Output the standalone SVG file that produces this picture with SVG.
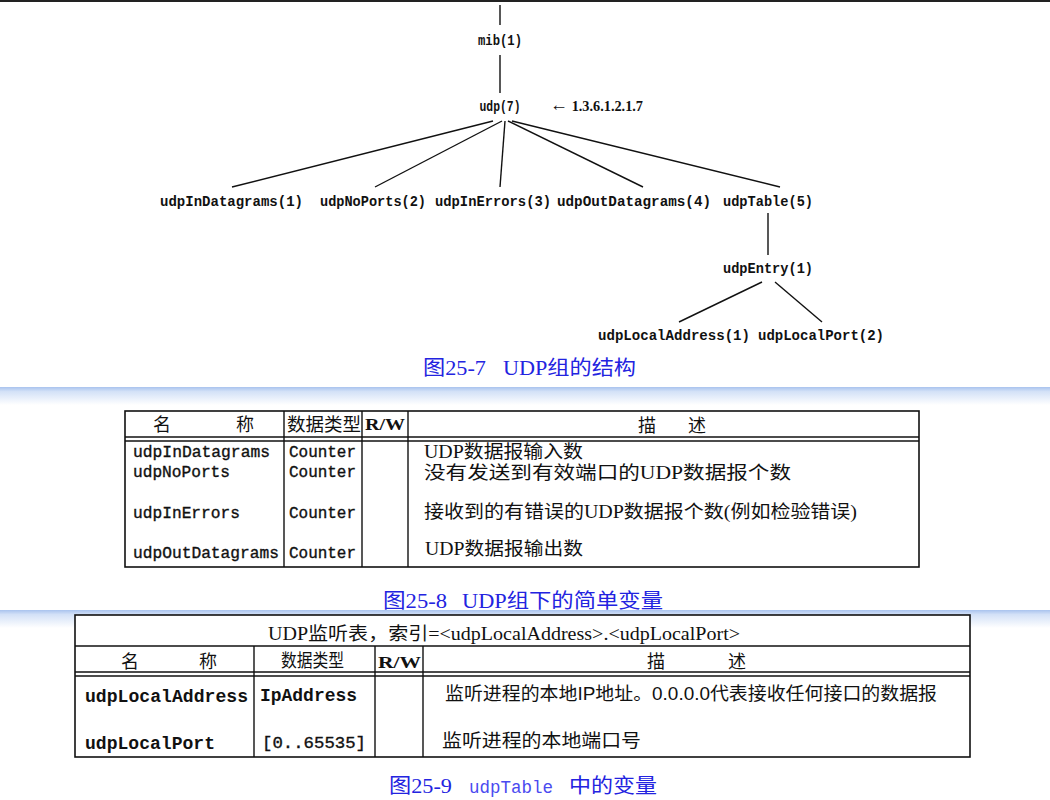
<svg xmlns="http://www.w3.org/2000/svg" width="1050" height="800" viewBox="0 0 1050 800">
<defs>
<linearGradient id="band" x1="0" y1="0" x2="0" y2="1">
<stop offset="0" stop-color="#a9c3ee"/>
<stop offset="0.25" stop-color="#d3e1f7"/>
<stop offset="1" stop-color="#ffffff"/>
</linearGradient>
</defs>
<style>
.tree{font-family:"Liberation Mono",monospace;font-size:14px;font-weight:bold;fill:#111}
.conn line{stroke:#111;stroke-width:1.4}
.tb{fill:none;stroke:#111;stroke-width:1.6}
.tl{stroke:#111;stroke-width:1.4}
.mono{font-family:"Liberation Mono",monospace;font-size:16px;fill:#111;stroke:#111;stroke-width:0.35}
.monob{font-family:"Liberation Mono",monospace;font-size:18px;font-weight:bold;fill:#111}
.cjk{font-family:"Liberation Serif","Noto Sans CJK SC",serif;font-size:18px;fill:#111}
.sans{font-family:"Liberation Sans","Noto Sans CJK SC",sans-serif;font-size:18px;fill:#111}
.hdr{font-family:"Noto Sans CJK SC",sans-serif;font-size:18px;fill:#111}
.rw{font-family:"Liberation Serif",serif;font-size:17px;font-weight:bold;fill:#111}
.cap{font-family:"Liberation Serif","Noto Sans CJK SC",serif;font-size:20px;fill:#2323e0}
</style>
<rect width="1050" height="800" fill="#ffffff"/>
<rect x="0" y="0" width="1050" height="2" fill="#222"/>

<g id="connectors" class="conn">
<line x1="500" y1="5" x2="500" y2="25" stroke-width="1"/>
<line x1="500" y1="55" x2="500" y2="93"/>
<line x1="493" y1="121" x2="232" y2="187"/>
<line x1="502" y1="121" x2="375" y2="187"/>
<line x1="505" y1="121" x2="500" y2="187"/>
<line x1="508" y1="121" x2="643" y2="187"/>
<line x1="512" y1="121" x2="780" y2="187"/>
<line x1="768" y1="213" x2="768" y2="255"/>
<line x1="762" y1="282" x2="679" y2="322"/>
<line x1="775" y1="282" x2="822" y2="322"/>
</g>

<g id="mib"><text class="tree" x="500" y="45" text-anchor="middle" textLength="44" lengthAdjust="spacingAndGlyphs">mib(1)</text></g>
<g id="udp"><text class="tree" x="500" y="111" text-anchor="middle" textLength="41" lengthAdjust="spacingAndGlyphs">udp(7)</text>
<text x="550" y="111" font-family="Liberation Serif,serif" font-size="15" font-weight="bold" fill="#111" textLength="93" lengthAdjust="spacingAndGlyphs"><tspan font-size="19" font-weight="normal">←</tspan> 1.3.6.1.2.1.7</text></g>
<g id="udpInDatagrams"><text class="tree" x="160" y="206" textLength="143" lengthAdjust="spacingAndGlyphs">udpInDatagrams(1)</text></g>
<g id="udpNoPorts"><text class="tree" x="320" y="206" textLength="106" lengthAdjust="spacingAndGlyphs">udpNoPorts(2)</text></g>
<g id="udpInErrors"><text class="tree" x="435" y="206" textLength="116" lengthAdjust="spacingAndGlyphs">udpInErrors(3)</text></g>
<g id="udpOutDatagrams"><text class="tree" x="557" y="206" textLength="154" lengthAdjust="spacingAndGlyphs">udpOutDatagrams(4)</text></g>
<g id="udpTable"><text class="tree" x="723" y="206" textLength="90" lengthAdjust="spacingAndGlyphs">udpTable(5)</text></g>
<g id="udpEntry"><text class="tree" x="723" y="273" textLength="90" lengthAdjust="spacingAndGlyphs">udpEntry(1)</text></g>
<g id="udpLocalAddress"><text class="tree" x="598" y="340" textLength="152" lengthAdjust="spacingAndGlyphs">udpLocalAddress(1)</text></g>
<g id="udpLocalPort"><text class="tree" x="758" y="340" textLength="126" lengthAdjust="spacingAndGlyphs">udpLocalPort(2)</text></g>

<g id="caption1">
<text class="cap" x="423" y="375" textLength="63" lengthAdjust="spacingAndGlyphs">图25-7</text>
<text class="cap" x="503" y="375" textLength="133" lengthAdjust="spacingAndGlyphs">UDP组的结构</text>
</g>

<rect x="0" y="387" width="1050" height="18" fill="url(#band)"/>

<g id="table1">
<rect class="tb" x="125" y="411" width="794" height="156"/>
<line class="tl" x1="125" y1="437" x2="919" y2="437"/>
<line class="tl" x1="125" y1="441" x2="919" y2="441"/>
<line class="tl" x1="284" y1="411" x2="284" y2="567"/>
<line class="tl" x1="362" y1="411" x2="362" y2="567"/>
<line class="tl" x1="408" y1="411" x2="408" y2="567"/>
<text class="hdr" x="162" y="431" text-anchor="middle">名</text>
<text class="hdr" x="245" y="431" text-anchor="middle">称</text>
<text class="hdr" x="287" y="431" textLength="74" lengthAdjust="spacingAndGlyphs">数据类型</text>
<text class="rw" x="365" y="430" textLength="40" lengthAdjust="spacingAndGlyphs">R/W</text>
<text class="hdr" x="647" y="432" text-anchor="middle">描</text>
<text class="hdr" x="697" y="432" text-anchor="middle">述</text>
<text class="mono" x="133" y="457" textLength="137" lengthAdjust="spacingAndGlyphs">udpInDatagrams</text>
<text class="mono" x="133" y="477" textLength="97" lengthAdjust="spacingAndGlyphs">udpNoPorts</text>
<text class="mono" x="133" y="518" textLength="107" lengthAdjust="spacingAndGlyphs">udpInErrors</text>
<text class="mono" x="133" y="558" textLength="146" lengthAdjust="spacingAndGlyphs">udpOutDatagrams</text>
<text class="mono" x="289" y="457" textLength="67" lengthAdjust="spacingAndGlyphs">Counter</text>
<text class="mono" x="289" y="477" textLength="67" lengthAdjust="spacingAndGlyphs">Counter</text>
<text class="mono" x="289" y="518" textLength="67" lengthAdjust="spacingAndGlyphs">Counter</text>
<text class="mono" x="289" y="558" textLength="67" lengthAdjust="spacingAndGlyphs">Counter</text>
<text class="cjk" x="424" y="458" textLength="159" lengthAdjust="spacingAndGlyphs">UDP数据报输入数</text>
<text class="cjk" x="424" y="479" textLength="367" lengthAdjust="spacingAndGlyphs">没有发送到有效端口的UDP数据报个数</text>
<text class="cjk" x="424" y="518" textLength="433" lengthAdjust="spacingAndGlyphs">接收到的有错误的UDP数据报个数(例如检验错误)</text>
<text class="cjk" x="425" y="555" textLength="158" lengthAdjust="spacingAndGlyphs">UDP数据报输出数</text>
</g>

<g id="caption2">
<text class="cap" x="383" y="608" textLength="64" lengthAdjust="spacingAndGlyphs">图25-8</text>
<text class="cap" x="462" y="608" textLength="201" lengthAdjust="spacingAndGlyphs">UDP组下的简单变量</text>
</g>

<rect x="0" y="610" width="1050" height="18" fill="url(#band)"/>

<g id="table2">
<rect x="75" y="615" width="895" height="142" fill="#ffffff"/>
<rect class="tb" x="75" y="615" width="895" height="142"/>
<line class="tl" x1="75" y1="646" x2="970" y2="646"/>
<line class="tl" x1="75" y1="672" x2="970" y2="672"/>
<line class="tl" x1="75" y1="676" x2="970" y2="676"/>
<line class="tl" x1="254" y1="646" x2="254" y2="757"/>
<line class="tl" x1="375" y1="646" x2="375" y2="757"/>
<line class="tl" x1="423" y1="646" x2="423" y2="757"/>
<text class="cjk" x="268" y="640" textLength="472" lengthAdjust="spacingAndGlyphs">UDP监听表，索引=&lt;udpLocalAddress&gt;.&lt;udpLocalPort&gt;</text>
<text class="hdr" x="130" y="668" text-anchor="middle">名</text>
<text class="hdr" x="208" y="668" text-anchor="middle">称</text>
<text class="hdr" x="281" y="667" textLength="63" lengthAdjust="spacingAndGlyphs">数据类型</text>
<text class="rw" x="378" y="668" textLength="43" lengthAdjust="spacingAndGlyphs">R/W</text>
<text class="hdr" x="656" y="668" text-anchor="middle">描</text>
<text class="hdr" x="737" y="668" text-anchor="middle">述</text>
<text class="monob" x="85" y="702" textLength="163" lengthAdjust="spacingAndGlyphs">udpLocalAddress</text>
<text class="monob" x="85" y="749" textLength="130" lengthAdjust="spacingAndGlyphs">udpLocalPort</text>
<text class="monob" x="260" y="701" textLength="97" lengthAdjust="spacingAndGlyphs">IpAddress</text>
<text class="mono" x="262" y="748" font-size="18" textLength="104" lengthAdjust="spacingAndGlyphs">[0..65535]</text>
<text class="sans" x="445" y="700" textLength="492" lengthAdjust="spacingAndGlyphs">监听进程的本地IP地址。0.0.0.0代表接收任何接口的数据报</text>
<text class="sans" x="442" y="747" textLength="199" lengthAdjust="spacingAndGlyphs">监听进程的本地端口号</text>
</g>

<g id="caption3">
<text class="cap" x="389" y="793" textLength="63" lengthAdjust="spacingAndGlyphs">图25-9</text>
<text x="469" y="793" font-family="Liberation Mono,monospace" font-size="18" fill="#4a4af0" textLength="84" lengthAdjust="spacingAndGlyphs">udpTable</text>
<text class="cap" x="569" y="793" textLength="88" lengthAdjust="spacingAndGlyphs">中的变量</text>
</g>
</svg>
